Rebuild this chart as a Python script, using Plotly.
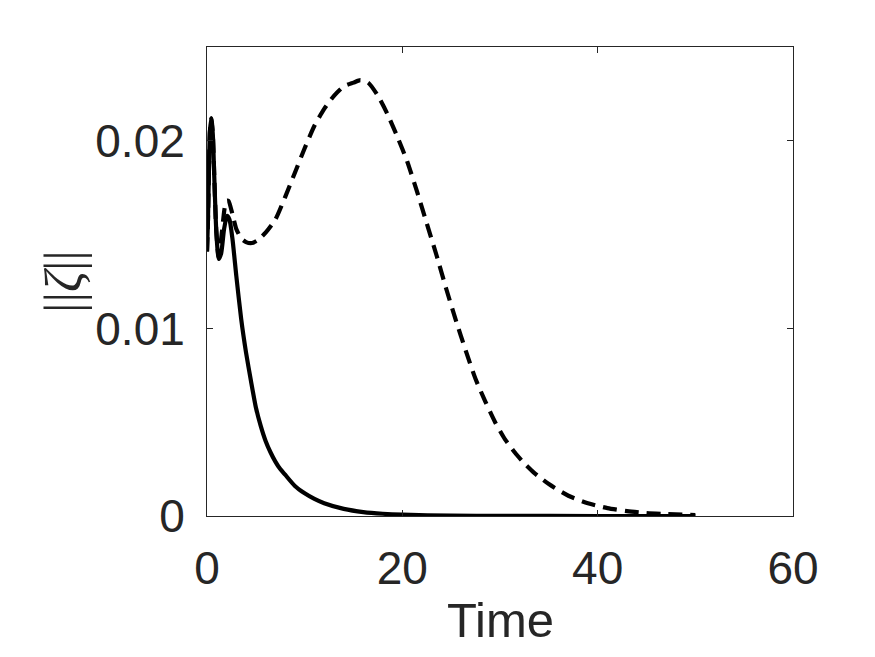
import plotly.graph_objects as go

# Solid curve (time, norm)
t_solid = [0, 0.1, 0.2, 0.3, 0.45, 0.6, 0.75, 0.95, 1.2, 1.45, 1.75, 2.05, 2.3, 2.6, 3.0, 3.5, 4.0, 4.5,
           5.0, 5.5, 6.0, 6.5, 7.0, 7.5, 8.0, 9.0, 10, 11, 12, 14, 16, 18, 20, 25, 30, 40, 50]
y_solid = [0.0141, 0.0158, 0.0185, 0.0205, 0.0212, 0.0203, 0.0180, 0.0152, 0.0137, 0.0140, 0.0153, 0.0160,
           0.0158, 0.0148, 0.0128, 0.0105, 0.0087, 0.0072, 0.0058, 0.0048, 0.0040, 0.0034, 0.0029,
           0.0025, 0.0022, 0.0016, 0.00121, 0.00091, 0.00068, 0.00038, 0.00021, 0.00012, 0.00007,
           0.000016, 0.000004, 0.0, 0.0]

# Dashed curve (time, norm)
t_dashed = [0, 0.1, 0.2, 0.3, 0.45, 0.6, 0.75, 0.95, 1.2, 1.5, 1.8, 2.0, 2.2, 2.6, 3.0, 3.5, 4.0, 4.6,
            5.2, 6.0, 7.0, 8.0, 9.0, 10, 11, 12, 13, 14, 15, 15.7, 16.5, 17.5, 18.5, 19.5, 20.5, 21.5,
            22.5, 23.5, 24.5, 25.5, 26.5, 27.5, 28.5, 29.5, 30.5, 31.5, 32.5, 33.5, 35, 37, 39, 41,
            43, 45, 47, 50]
y_dashed = [0.0141, 0.0158, 0.0185, 0.0205, 0.0212, 0.0203, 0.0180, 0.0152, 0.0138, 0.0150, 0.0164,
            0.0168, 0.0168, 0.0161, 0.0153, 0.0148, 0.0146, 0.01455, 0.0147, 0.0151, 0.0158, 0.0170,
            0.0183, 0.0196, 0.0208, 0.0217, 0.0224, 0.0229, 0.0231, 0.02323, 0.0231, 0.0224, 0.0214,
            0.0202, 0.0189, 0.0173, 0.0156, 0.0139, 0.0121, 0.0104, 0.0088, 0.0073, 0.0061, 0.0050,
            0.0041, 0.0034, 0.0028, 0.0023, 0.0017, 0.00108, 0.00068, 0.00042, 0.00026, 0.00016,
            0.0001, 0.00005]

x_ticks = [0, 20, 40, 60]
y_ticks = [0, 0.01, 0.02]
y_tick_text = ["0", "0.01", "0.02"]

TXT = "#262626"
FONT = "Liberation Sans, Arial, sans-serif"

fig = go.Figure()
fig.add_trace(go.Scatter(x=t_dashed, y=y_dashed, mode="lines",
                         line=dict(color="black", width=4.2, dash="14px,8px", shape="spline",
                                   smoothing=0.6),
                         showlegend=False))
fig.add_trace(go.Scatter(x=t_solid, y=y_solid, mode="lines",
                         line=dict(color="black", width=4.2, shape="spline", smoothing=0.6),
                         showlegend=False))

axis_common = dict(showgrid=False, zeroline=False, showline=True, linecolor=TXT, linewidth=1,
                   mirror="ticks", ticks="inside", ticklen=6, tickcolor=TXT, tickwidth=1,
                   tickfont=dict(family=FONT, size=46, color=TXT))

fig.update_layout(
    width=875, height=657,
    margin=dict(l=207, r=82, t=47, b=141, autoexpand=False),
    paper_bgcolor="white", plot_bgcolor="white",
    xaxis=dict(range=[0, 60], tickvals=x_ticks, ticklabelstandoff=12, **axis_common),
    yaxis=dict(range=[0, 0.025], tickvals=y_ticks, ticktext=y_tick_text,
               ticklabelstandoff=12, **axis_common),
    annotations=[
        dict(text="Time", xref="paper", yref="paper", x=0.5, y=-0.222, xanchor="center",
             yanchor="middle", showarrow=False, font=dict(family=FONT, size=49, color=TXT)),
        dict(text="||<i>ζ</i>||", xref="paper", yref="paper", x=-0.245, y=0.5,
             xanchor="center", yanchor="middle", textangle=-90, showarrow=False,
             font=dict(family="Liberation Serif, DejaVu Serif, serif", size=52, color=TXT)),
    ],
)

fig.write_html("out.html")
